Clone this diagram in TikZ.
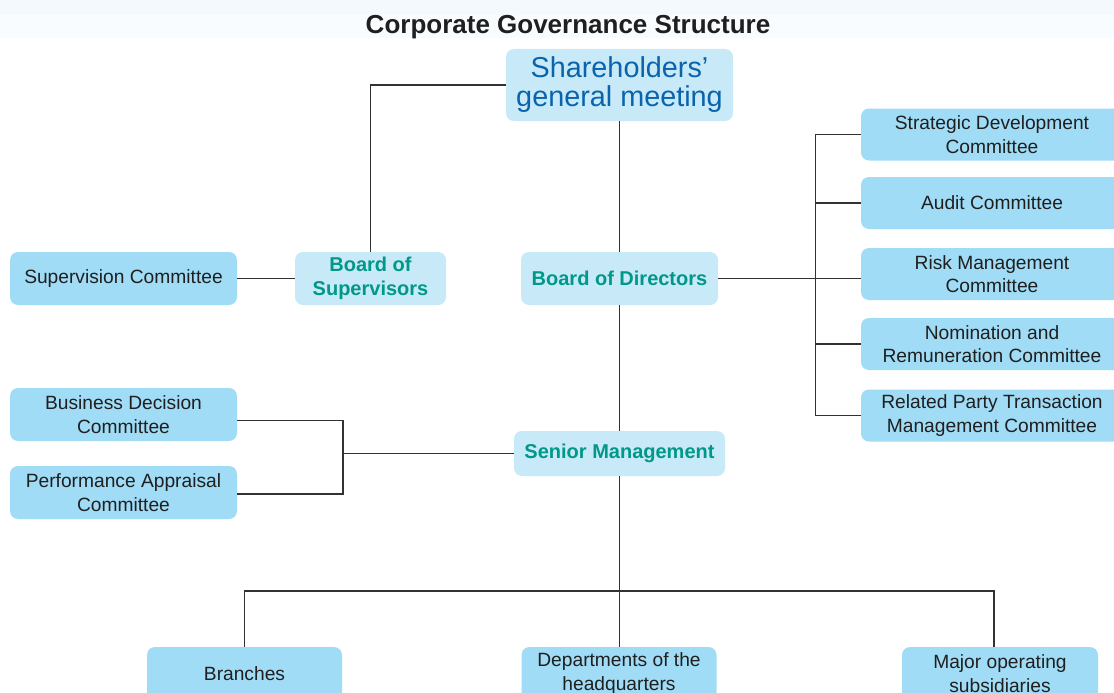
\documentclass[tikz,border=0pt]{standalone}
\usepackage{fontspec}
\setmainfont{Liberation Sans}
\usetikzlibrary{positioning}
\definecolor{boxblue}{RGB}{160,220,246}
\definecolor{paleblue}{RGB}{200,233,248}
\definecolor{tealtext}{RGB}{0,152,136}
\definecolor{deepblue}{RGB}{10,100,172}
\definecolor{linegray}{RGB}{50,50,50}
\definecolor{bandblue}{RGB}{244,249,253}
\definecolor{bandpale}{RGB}{248,252,254}

\begin{document}
\begin{tikzpicture}[x=1pt, y=-1pt,
    every node/.style={inner sep=0pt, align=center},
    comm/.style={fill=boxblue, rounded corners=8pt, minimum height=53pt, text=black!88,
      font=\fontsize{19.2}{23.5}\selectfont},
    board/.style={fill=paleblue, rounded corners=8pt, minimum height=53pt, text=tealtext,
      font=\bfseries\fontsize{20}{24}\selectfont},
    link/.style={draw=linegray, line width=1.3pt}]
        \useasboundingbox (0,0) rectangle (1114,693);
        \clip (0,0) rectangle (1114,693);
        \fill[white] (0,0) rectangle (1114,693);
        \fill[bandpale] (0,15) rectangle (1114,38);
        \fill[bandblue] (0,0) rectangle (1114,15);

        \node[text=black!88, font=\bfseries\fontsize{26}{30}\selectfont] (title) at (568,27.5) {Corporate Governance Structure};

        % top and boards
        \node[fill=paleblue, rounded corners=8pt, minimum width=227pt, minimum height=72pt, text=deepblue,
          font=\fontsize{28.8}{29}\selectfont] (sgm) at (619.5,85) {Shareholders'\\general meeting};
        \node[board, minimum width=151pt] (bos) at (370.5,278.5) {Board of\\Supervisors};
        \node[board, minimum width=197pt] (bod) at (619.5,278.5) {Board of Directors};
        \node[board, minimum width=211pt, minimum height=45pt] (sm) at (619.5,453.5) {Senior Management};

        % left committees
        \node[comm, minimum width=227pt] (supc) at (123.5,278.5) {Supervision Committee};
        \node[comm, minimum width=227pt] (bdc) at (123.5,414.5) {Business Decision\\Committee};
        \node[comm, minimum width=227pt] (pac) at (123.5,492.5) {Performance Appraisal\\Committee};

        % right committees
        \node[comm, minimum width=262pt, minimum height=52pt] (sdc) at (992,134.5) {Strategic Development\\Committee};
        \node[comm, minimum width=262pt, minimum height=52pt] (audc) at (992,203) {Audit Committee};
        \node[comm, minimum width=262pt, minimum height=52pt] (rmc) at (992,274) {Risk Management\\Committee};
        \node[comm, minimum width=262pt, minimum height=52pt] (nrc) at (992,344) {Nomination and\\Remuneration Committee};
        \node[comm, minimum width=262pt, minimum height=52pt] (rptc) at (992,415.5) {Related Party Transaction\\Management Committee};

        % bottom row
        \node[comm, minimum width=195pt] (br) at (244.5,673.5) {Branches};
        \node[comm, minimum width=195pt] (hq) at (619,673.5) {Departments of the\\headquarters};
        \node[comm, minimum width=196pt] (subs) at (1000,673.5) {Major operating\\subsidiaries};

        \coordinate (lbus) at (343,453.5);
        \coordinate (bbus) at (619.5,591);

        \draw[link] (sgm.west) -| (bos.north);
        \draw[link] (sgm.south) -- (bod.north);
        \draw[link] (bod.south) -- (sm.north);
        \draw[link] (supc.east) -- (bos.west);
        \draw[link] (bod.east) -- (bod.east -| rmc.west);
        \draw[link] (sdc.west) -- ++(-45,0) |- (rptc.west);
        \draw[link] (audc.west) -- ++(-45,0);
        \draw[link] (nrc.west) -- ++(-45,0);
        \draw[link] ([yshift=-6pt]bdc.east) -| (lbus) |- ([yshift=-1.5pt]pac.east);
        \draw[link] (lbus) -- (sm.west);
        \draw[link] (sm.south) -- (bbus) -- (bbus |- hq.north);
        \draw[link] (br.north) |- (bbus) -| ([xshift=-6pt]subs.north);
    \end{tikzpicture}
\end{document}
